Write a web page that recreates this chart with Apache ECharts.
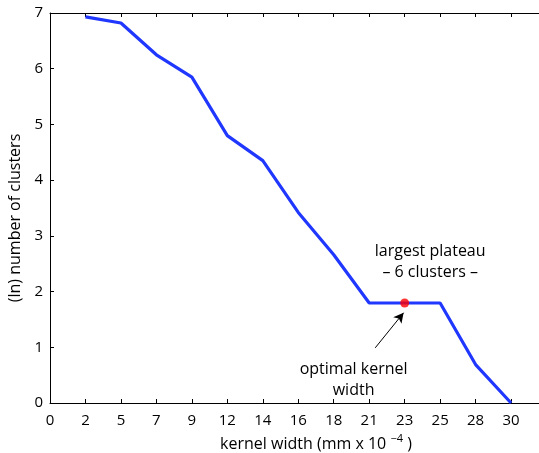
<!DOCTYPE html>
<html>
<head>
<meta charset="utf-8">
<script src="https://cdn.jsdelivr.net/npm/echarts@6/dist/echarts.min.js"></script>
<style>html,body{margin:0;padding:0;background:#fff;}#c{width:539px;height:453px;}</style>
</head>
<body>
<div id="c"></div>
<script>
// Tick labels on the x axis (kernel width, mm x 10^-4), one per tick position
const xTickLabels = ['0','2','5','7','9','12','14','16','18','21','23','25','28','30'];
// Tick positions (index) at which the curve is sampled
const sampleTicks = [1,2,3,4,5,6,7,8,9,10,11,12,13];
// (ln) number of clusters at each sample
const lnClusters = [6.93,6.82,6.25,5.85,4.80,4.35,3.42,2.66,1.795,1.795,1.795,0.69,0];
// Optimal kernel width (tick index) and its value
const optimalTick = [10];
const optimalValue = [1.795];
// Annotation texts
const plateauText = 'largest plateau\n\u2013 6 clusters \u2013';
const optimalText = 'optimal kernel\nwidth';

const FONT = 'Open Sans';
const chart = echarts.init(document.getElementById('c'), null, {renderer:'canvas'});

const axisLine = {show:true, lineStyle:{color:'#000', width:1}};
const tick = {show:true, inside:true, length:4, lineStyle:{color:'#000', width:1}};

chart.setOption({
  animation:false,
  backgroundColor:'#fff',
  grid:{left:50, top:13, width:532, height:390, containLabel:false, outerBoundsMode:'none'},
  xAxis:[{
    type:'value', min:0, max:15, interval:1, position:'bottom',
    axisLine:axisLine, axisTick:tick, splitLine:{show:false},
    axisLabel:{color:'#000', fontFamily:FONT, fontSize:15, margin:10,
      formatter:v => (xTickLabels[v] !== undefined ? xTickLabels[v] : '')},
    name:'kernel width (mm x 10 {sup|\u22124}{p| )}', nameLocation:'middle', nameGap:30,
    nameTextStyle:{color:'#000', fontFamily:FONT, fontSize:16,
      rich:{sup:{fontFamily:FONT, fontSize:11, color:'#000', padding:[0,0,11,0]},
            p:{fontFamily:FONT, fontSize:16, color:'#000'}}}
  },{
    type:'value', min:0, max:15, interval:1, position:'top',
    axisLine:axisLine, axisTick:tick, axisLabel:{show:false}, splitLine:{show:false}
  }],
  yAxis:[{
    type:'value', min:0, max:7, interval:1, position:'left',
    axisLine:axisLine, axisTick:tick, splitLine:{show:false},
    axisLabel:{color:'#000', fontFamily:FONT, fontSize:15, margin:7},
    name:'(ln) number of clusters', nameLocation:'middle', nameGap:25,
    nameTextStyle:{color:'#000', fontFamily:FONT, fontSize:16, padding:[0,20,0,0]}
  }],
  series:[{
    type:'line', xAxisIndex:0, yAxisIndex:0,
    data:sampleTicks.map((t,i)=>[t, lnClusters[i]]),
    showSymbol:false, symbol:'none',
    lineStyle:{color:'#1f37ff', width:3.2},
    markPoint:{
      symbol:'circle', symbolSize:0, silent:true,
      data:[
        {coord:[10.72, 2.53], value:0,
         label:{show:true, position:'inside', formatter:plateauText, color:'#000',
                fontFamily:FONT, fontSize:16, lineHeight:21, align:'center'}},
        {coord:[8.56, 0.42], value:0,
         label:{show:true, position:'inside', formatter:optimalText, color:'#000',
                fontFamily:FONT, fontSize:16, lineHeight:21, align:'center'}}
      ]
    }
  },{
    type:'scatter', xAxisIndex:0, yAxisIndex:0,
    data:optimalTick.map((t,i)=>[t, optimalValue[i]]),
    symbol:'circle', symbolSize:9, itemStyle:{color:'#ff0000'}, z:5,
    markLine:{
      silent:true, symbol:['none','arrow'], symbolSize:[8,10],
      lineStyle:{color:'#000', width:1, type:'solid'},
      label:{show:false},
      data:[[{coord:[9.17,0.99]},{coord:[9.97,1.62]}]]
    }
  }]
});
</script>
</body>
</html>
